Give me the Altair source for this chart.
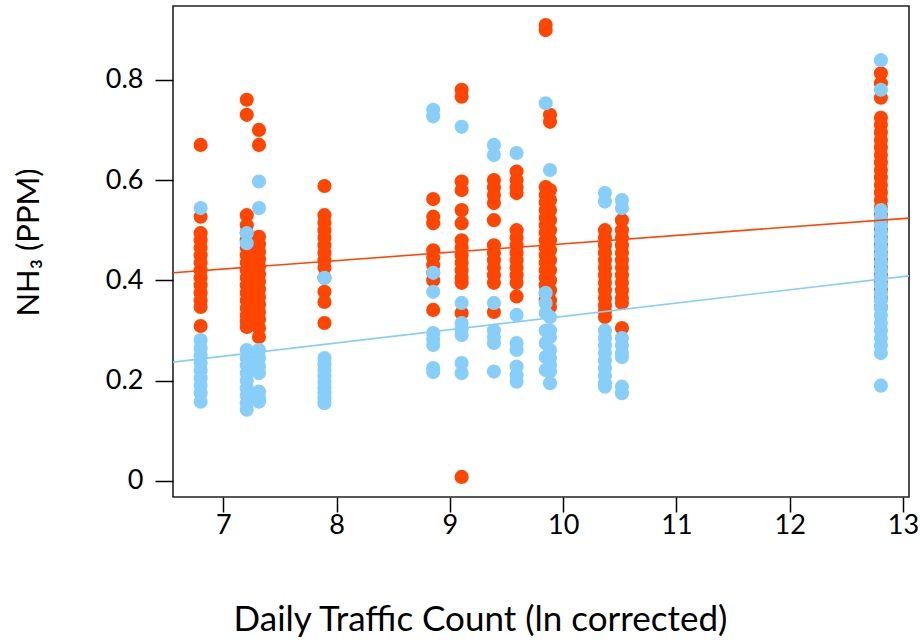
import altair as alt
import pandas as pd

# x positions of the measurement sites (ln corrected daily traffic count)
site_x = [6.80, 7.207, 7.315, 7.893, 8.853, 9.104, 9.389, 9.589, 9.846, 9.884, 10.369, 10.519, 12.805]

# NH3 readings (PPM), orange series, one list per site
orange_y = [
    [0.67, 0.527, 0.494, 0.48, 0.465, 0.45, 0.435, 0.42, 0.405, 0.39, 0.375, 0.36, 0.347, 0.309],
    [0.76, 0.73, 0.53, 0.51, 0.495, 0.48, 0.465, 0.45, 0.435, 0.42, 0.405, 0.39, 0.375, 0.36, 0.345, 0.33, 0.318, 0.307],
    [0.70, 0.67, 0.487, 0.472, 0.457, 0.442, 0.427, 0.412, 0.397, 0.382, 0.367, 0.352, 0.337, 0.322, 0.305, 0.287],
    [0.588, 0.53, 0.515, 0.50, 0.485, 0.47, 0.455, 0.44, 0.425, 0.405, 0.377, 0.357, 0.315],
    [0.562, 0.527, 0.514, 0.46, 0.445, 0.43, 0.415, 0.40, 0.341],
    [0.78, 0.766, 0.597, 0.58, 0.54, 0.514, 0.48, 0.465, 0.45, 0.435, 0.42, 0.405, 0.395, 0.335, 0.008],
    [0.60, 0.585, 0.57, 0.554, 0.52, 0.47, 0.455, 0.44, 0.425, 0.41, 0.395, 0.337],
    [0.617, 0.60, 0.585, 0.574, 0.50, 0.485, 0.47, 0.455, 0.44, 0.425, 0.41, 0.395, 0.368],
    [0.909, 0.899, 0.586, 0.57, 0.555, 0.54, 0.525, 0.51, 0.495, 0.48, 0.465, 0.45, 0.435, 0.42, 0.405, 0.39, 0.375, 0.36],
    [0.73, 0.716, 0.58, 0.56, 0.54, 0.52, 0.50, 0.48, 0.46, 0.44, 0.42, 0.40, 0.38, 0.36, 0.347],
    [0.50, 0.485, 0.47, 0.455, 0.44, 0.425, 0.41, 0.395, 0.38, 0.365, 0.35, 0.338, 0.327],
    [0.52, 0.50, 0.485, 0.47, 0.455, 0.44, 0.425, 0.41, 0.395, 0.38, 0.365, 0.355, 0.305],
    [0.813, 0.793, 0.764, 0.724, 0.71, 0.695, 0.68, 0.665, 0.65, 0.635, 0.62, 0.605, 0.59, 0.575, 0.56,
     0.546, 0.53, 0.515, 0.50, 0.485, 0.47, 0.455, 0.44, 0.425, 0.41, 0.395, 0.38, 0.365, 0.347],
]

# NH3 readings (PPM), light blue series, one list per site
blue_y = [
    [0.544, 0.281, 0.265, 0.25, 0.235, 0.22, 0.205, 0.19, 0.175, 0.158],
    [0.494, 0.474, 0.261, 0.245, 0.23, 0.215, 0.20, 0.185, 0.17, 0.155, 0.142],
    [0.597, 0.544, 0.261, 0.245, 0.228, 0.215, 0.178, 0.165, 0.158],
    [0.405, 0.245, 0.232, 0.221, 0.209, 0.197, 0.185, 0.175, 0.165, 0.155],
    [0.74, 0.727, 0.415, 0.377, 0.295, 0.283, 0.271, 0.225, 0.217],
    [0.706, 0.355, 0.315, 0.303, 0.291, 0.235, 0.215],
    [0.67, 0.65, 0.355, 0.30, 0.287, 0.275, 0.218],
    [0.654, 0.331, 0.275, 0.261, 0.228, 0.211, 0.198],
    [0.753, 0.375, 0.355, 0.335, 0.30, 0.275, 0.247, 0.221],
    [0.62, 0.327, 0.30, 0.287, 0.261, 0.245, 0.231, 0.218, 0.195],
    [0.574, 0.557, 0.30, 0.285, 0.27, 0.255, 0.24, 0.225, 0.21, 0.195, 0.188],
    [0.56, 0.544, 0.285, 0.27, 0.255, 0.247, 0.188, 0.175],
    [0.839, 0.78, 0.54, 0.525, 0.51, 0.495, 0.48, 0.465, 0.45, 0.435, 0.42, 0.405, 0.39, 0.375,
     0.36, 0.345, 0.33, 0.315, 0.30, 0.285, 0.27, 0.255, 0.19],
]

# fitted regression lines (end points at the plot edges)
line_x = [6.556, 13.053]
orange_line_y = [0.415, 0.524]
blue_line_y = [0.237, 0.409]

series_names = ["Orange", "Blue"]
series_colors = ["#FF4500", "#87CEFA"]

x_ticks = [7, 8, 9, 10, 11, 12, 13]
y_ticks = [0, 0.2, 0.4, 0.6, 0.8]

rows = []
for name, ys in zip(series_names, [orange_y, blue_y]):
    for sx, col in zip(site_x, ys):
        for v in col:
            rows.append({"x": sx, "y": v, "series": name})
points_df = pd.DataFrame(rows)

line_rows = []
for name, ly in zip(series_names, [orange_line_y, blue_line_y]):
    for lx, v in zip(line_x, ly):
        line_rows.append({"x": lx, "y": v, "series": name})
lines_df = pd.DataFrame(line_rows)

FONT = "Lato"

xscale = alt.Scale(domain=[line_x[0], line_x[1]], nice=False, zero=False)
yscale = alt.Scale(domain=[-0.032, 0.947], nice=False, zero=False)
cscale = alt.Scale(domain=series_names, range=series_colors)

xaxis = alt.Axis(
    values=x_ticks, format="d", title="Daily Traffic Count (ln corrected)", grid=False, domain=False,
    tickSize=15, tickColor="black", tickWidth=1.5, labelFontSize=27, labelFont=FONT,
    labelColor="black", labelPadding=0, labelOverlap=False, labelBound=False, labelFlush=False,
    titleFont=FONT, titleFontSize=35,
    titleFontWeight="normal", titleColor="black", titleX=307, titleY=133,
    titleAlign="center", titleBaseline="alphabetic", titleAnchor="start",
)
yaxis = alt.Axis(
    values=y_ticks, format="~g", title="NH₃ (PPM)", grid=False, domain=False,
    tickSize=18, tickColor="black", tickWidth=1.5, labelFontSize=27, labelFont=FONT,
    labelColor="black", labelPadding=12, titleFont=FONT, titleFontSize=31,
    titleFontWeight="normal", titleColor="black", titleX=-144, titleY=236,
    titleAlign="center", titleBaseline="middle", titleAngle=270, titleAnchor="start",
)

pts = alt.Chart(points_df).mark_circle(size=200, opacity=1).encode(
    x=alt.X("x:Q", scale=xscale, axis=xaxis),
    y=alt.Y("y:Q", scale=yscale, axis=yaxis),
    color=alt.Color("series:N", scale=cscale, legend=None),
    order=alt.Order("idx:Q"),
).transform_window(idx="row_number()")

lines = alt.Chart(lines_df).mark_line(strokeWidth=1.6, clip=True).encode(
    x=alt.X("x:Q", scale=xscale),
    y=alt.Y("y:Q", scale=yscale),
    color=alt.Color("series:N", scale=cscale, legend=None),
    detail="series:N",
)

chart = alt.layer(pts, lines).properties(
    width=736, height=491,
    autosize=alt.AutoSizeParams(type="none"),
    padding={"left": 173, "top": 6, "right": 11, "bottom": 147},
    background="white",
).configure_view(stroke="#222222", strokeWidth=1.6)

chart.save("out.html", embed_options={"renderer": "svg", "actions": False})
